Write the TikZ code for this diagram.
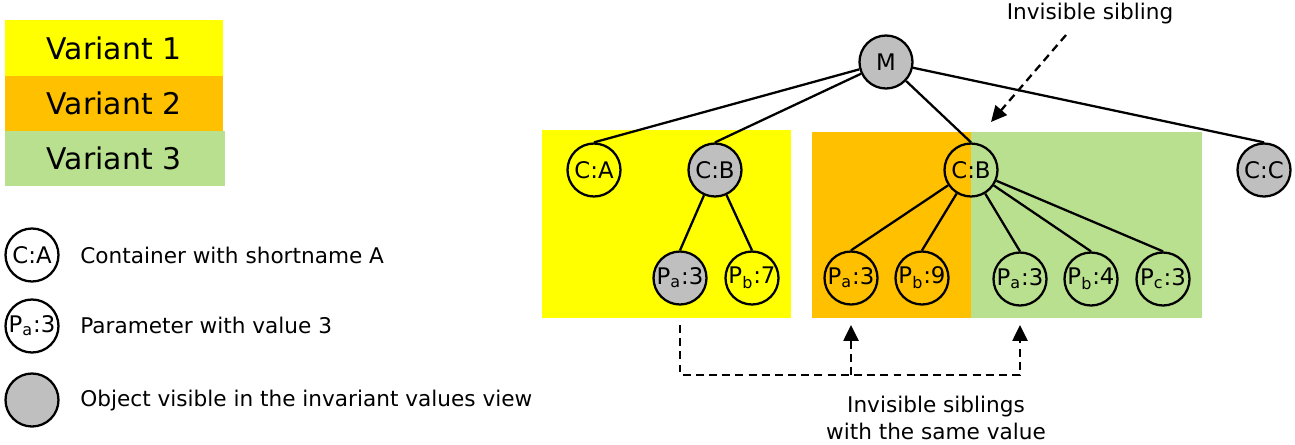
\documentclass[tikz,border=0pt]{standalone}
\usepackage{fontspec}
\setmainfont{DejaVu Sans}
\usetikzlibrary{arrows.meta}
\definecolor{varone}{HTML}{FFFF00}
\definecolor{vartwo}{HTML}{FFC000}
\definecolor{varthree}{HTML}{B9E08F}
\definecolor{invgray}{HTML}{BFBFBF}
\tikzset{
  obj/.style={circle,draw,line width=1.3pt,minimum size=1.06cm,inner sep=0pt,
    font=\fontsize{13}{15}\selectfont},
  inv/.style={obj,fill=invgray},
  edge/.style={line width=1.3pt},
  dasharrow/.style={line width=1.3pt,dash pattern=on 4.5pt off 3pt,
    -{Triangle[length=9pt,width=8.5pt]}},
  lbltext/.style={font=\fontsize{12.3}{15}\selectfont},
  legtext/.style={lbltext,anchor=west,inner sep=0pt},
  vartext/.style={font=\fontsize{17}{20}\selectfont}
}
\begin{document}
\begin{tikzpicture}[x=0.02cm,y=-0.02cm]
\useasboundingbox (0,0) rectangle (1295,444);

% Draw variant legend
\fill[varone] (5,20) rectangle (223,76);
\fill[vartwo] (5,76) rectangle (223,131);
\fill[varthree] (5,131) rectangle (225,186);
\node[vartext] (v1) at (114,48) {Variant 1};
\node[vartext] (v2) at (114,103) {Variant 2};
\node[vartext] (v3) at (114,158) {Variant 3};

% Draw object legend
\node[obj] (legA) at (32,255) {C:A};
\node[obj] (legP) at (32,326) {P\textsubscript{a}:3};
\node[inv] (legO) at (32,400) {};
\node[legtext] (txtA) at (80,255) {Container with shortname A};
\node[legtext] (txtP) at (80,325) {Parameter with value 3};
\node[legtext] (txtO) at (80,401) {Object visible in the invariant values view};

% Draw variant areas
\fill[varone] (542,130) rectangle (791,318);
\fill[vartwo] (812,132) rectangle (971,318);
\fill[varthree] (971,132) rectangle (1202,318);

% Draw tree nodes
\node[inv] (M) at (886,62) {M};
\node[obj] (CA) at (594,170) {C:A};
\node[inv] (CB1) at (715,170) {C:B};
\node[inv] (PA1) at (680,278) {P\textsubscript{a}:3};
\node[obj] (PB1) at (752,278) {P\textsubscript{b}:7};
\node[obj] (CB2) at (971,170) {C:B};
\node[obj] (PA2) at (851,278) {P\textsubscript{a}:3};
\node[obj] (PB2) at (922,278) {P\textsubscript{b}:9};
\node[obj] (PA3) at (1020,279) {P\textsubscript{a}:3};
\node[obj] (PB3) at (1091,279) {P\textsubscript{b}:4};
\node[obj] (PC3) at (1163,279) {P\textsubscript{c}:3};
\node[inv] (CC) at (1264,170) {C:C};

% Connect nodes
\foreach \c in {CA,CB1,CB2,CC}
  \draw[edge] (M) -- (\c.north);
\foreach \c in {PA1,PB1}
  \draw[edge] (CB1) -- (\c.north);
\foreach \c in {PA2,PB2,PA3,PB3,PC3}
  \draw[edge] (CB2) -- (\c.north);

% Label invisible sibling
\node[lbltext] (lblInv) at (1090,14) {Invisible sibling};
\coordinate (invStart) at (1066,35);
\coordinate (invTip) at (991,122);
\draw[dasharrow] (invStart) -- (invTip);

% Label invisible siblings with the same value
\coordinate (sameFrom) at (680,325);
\coordinate (sameTo2) at (851,325);
\coordinate (sameTo3) at (1020,325);
\coordinate (sameMid) at (851,375);
\draw[dasharrow] (sameFrom) -- ++(0,50) -| (sameTo3);
\draw[dasharrow] (sameMid) -- (sameTo2);
\node[lbltext,align=center] (lblSame) at (936,418) {Invisible siblings\\with the same value};
\end{tikzpicture}
\end{document}
